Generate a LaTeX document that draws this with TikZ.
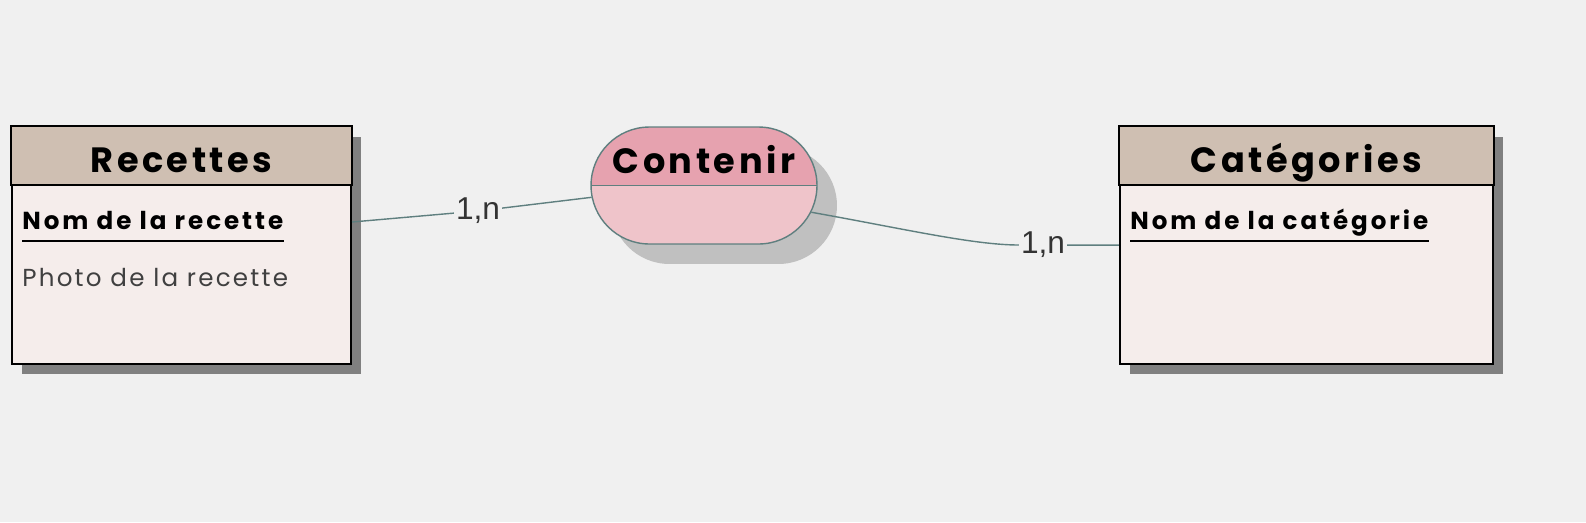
\documentclass[tikz,border=0pt]{standalone}
\usepackage{fontspec}
\setmainfont{Poppins}
\newfontfamily\cardfont{Liberation Sans}
\usetikzlibrary{shapes.misc,shadows}

\definecolor{sfondo}{HTML}{F0F0F0}
\definecolor{intestazione}{HTML}{CFBFB2}
\definecolor{corpo}{HTML}{F5EDEB}
\definecolor{rosascuro}{HTML}{E6A2AF}
\definecolor{rosachiaro}{HTML}{EFC4CA}
\definecolor{bordorel}{HTML}{5F7F7F}
\definecolor{ombraent}{HTML}{808080}
\definecolor{ombrarel}{HTML}{C0C0C0}

\tikzset{
  entita/.style={draw=black, line width=1.2pt, fill=corpo, minimum height=4.74cm, inner sep=0pt,
    drop shadow={shadow xshift=0.2cm, shadow yshift=-0.2cm, fill=ombraent, opacity=1}},
  intest/.style={draw=black, line width=1.2pt, fill=intestazione},
  titolo/.style={font=\bfseries\addfontfeatures{LetterSpace=10}\fontsize{20}{24}\selectfont, inner sep=0pt, anchor=base},
  chiave/.style={font=\bfseries\addfontfeatures{LetterSpace=12}\fontsize{14}{16}\selectfont, inner sep=0pt, anchor=base west},
  attributo/.style={font=\addfontfeatures{LetterSpace=9}\fontsize{14}{16}\selectfont, text=black!75, inner sep=0pt, anchor=base west},
  sottolinea/.style={line width=1pt},
  relazione/.style={rounded rectangle, draw=bordorel, line width=0.8pt, fill=rosachiaro,
    minimum width=4.52cm, minimum height=2.34cm, inner sep=0pt,
    drop shadow={shadow xshift=0.4cm, shadow yshift=-0.4cm, fill=ombrarel, opacity=1},
    path picture={
      \fill[rosascuro] (path picture bounding box.north west) rectangle (path picture bounding box.east);
      \draw[bordorel, line width=0.8pt] (path picture bounding box.west) -- (path picture bounding box.east);
    }},
  card/.style={font=\cardfont\fontsize{18}{20}\selectfont, text=black!80, inner sep=1pt},
  linea/.style={draw=bordorel, line width=0.8pt}
}

\begin{document}
\begin{tikzpicture}[x=0.02cm, y=-0.02cm]
    % Sfondo
    \fill[sfondo] (0,0) rectangle (1586,522);
    \useasboundingbox (0,0) rectangle (1586,522);

    % Entità Recettes
    \node[entita, minimum width=6.78cm] (rec) at (181.5,245.5) {};
    \draw[intest] (rec.north west) rectangle ([yshift=-1.18cm]rec.north east);
    \node[titolo] (recT) at ([yshift=-0.94cm]rec.north) {Recettes};
    \node[chiave] (recK) at (22,229) {Nom de la recette};
    \draw[sottolinea] ([yshift=-0.24cm]recK.base west) -- ([yshift=-0.24cm]recK.base east);
    \node[attributo] (recA) at (22,286) {Photo de la recette};

    % Entità Catégories
    \node[entita, minimum width=7.46cm] (cat) at (1306.5,245.5) {};
    \draw[intest] (cat.north west) rectangle ([yshift=-1.18cm]cat.north east);
    \node[titolo] (catT) at ([yshift=-0.94cm]cat.north) {Catégories};
    \node[chiave] (catK) at (1130,229) {Nom de la catégorie};
    \draw[sottolinea] ([yshift=-0.24cm]catK.base west) -- ([yshift=-0.24cm]catK.base east);

    % Associazione Contenir
    \node[relazione] (con) at (704,185.5) {};
    \node[titolo] (conT) at ([yshift=-0.94cm]con.north) {Contenir};

    % Cardinalità e legami
    \node[card] (c1) at (478,211) {1,n};
    \node[card] (c2) at (1043,245) {1,n};
    \draw[linea] ([yshift=0.47cm]rec.east) -- (c1);
    \draw[linea] (c1) -- (con.186);
    \draw[linea] (con.-14) .. controls +(90,16) and +(-70,0) .. (c2);
    \draw[linea] (c2) -- (cat);
\end{tikzpicture}
\end{document}
